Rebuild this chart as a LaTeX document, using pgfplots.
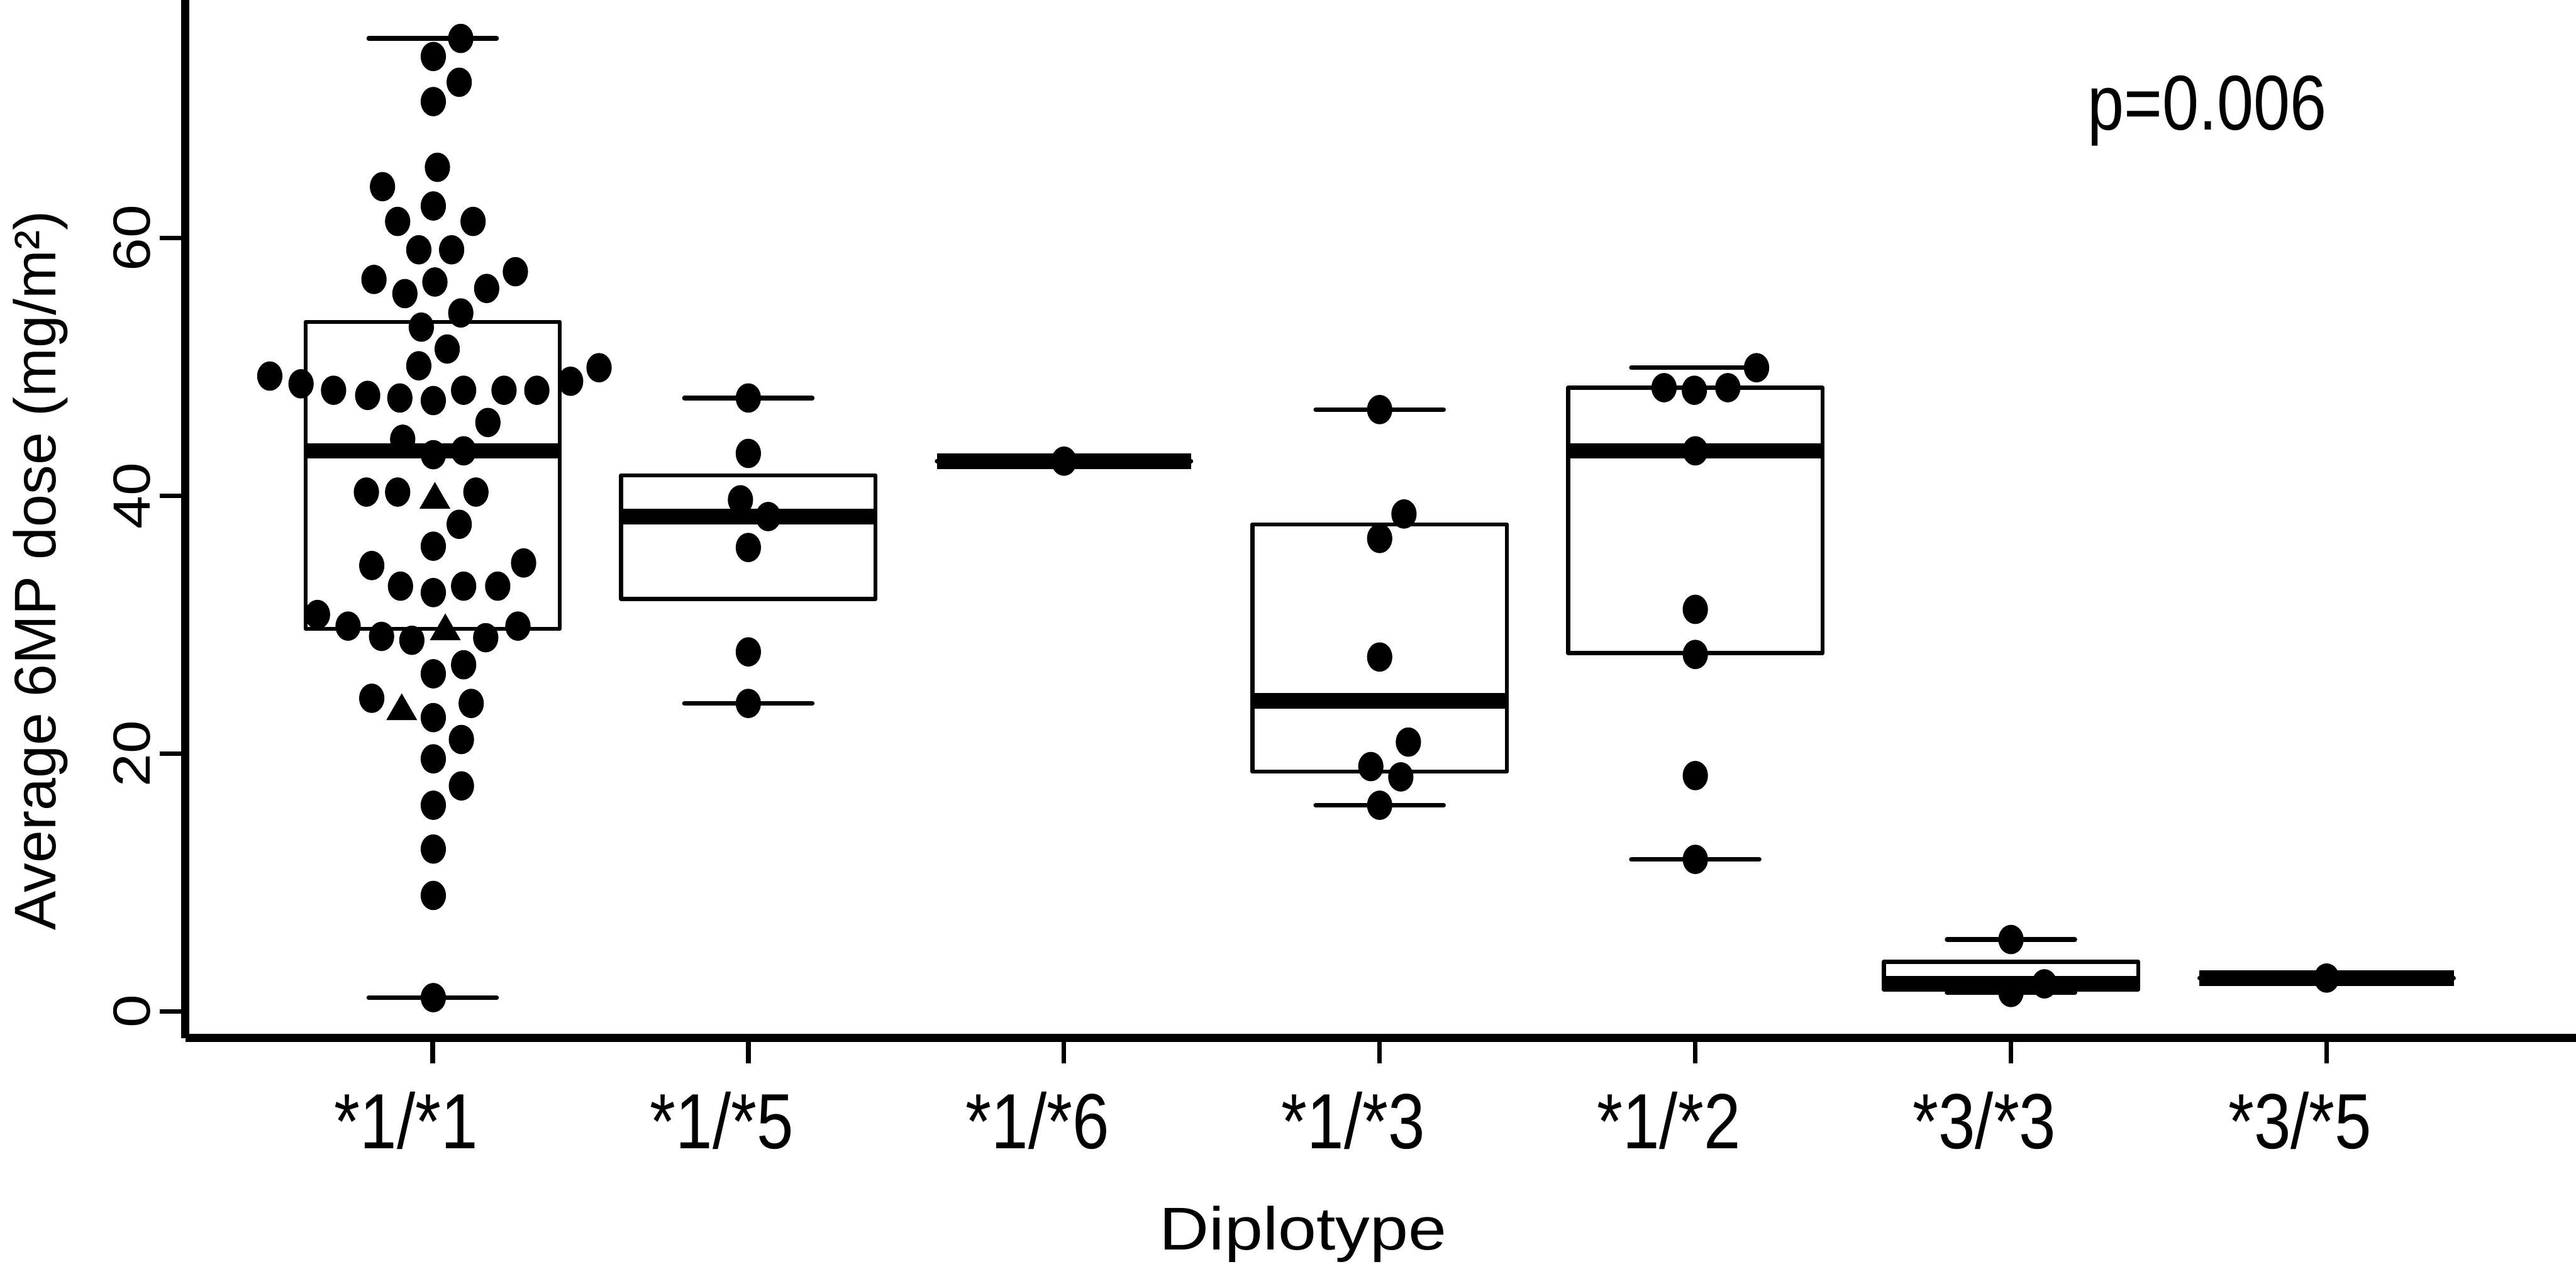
\documentclass[border=0pt]{standalone}
\usepackage{fontspec}
\setmainfont{Liberation Sans}
\usepackage{graphicx}
\usepackage{pgfplots}
\pgfplotsset{compat=1.18}
\usepgfplotslibrary{statistics}

% the reference's labels are not set at Arial's own proportions
\newcommand{\sx}[1]{\scalebox{0.845}[1]{#1}}
\newcommand{\sy}[1]{\scalebox{1.14}[1]{#1}}

\begin{document}
\begin{tikzpicture}
\begin{axis}[
    scale only axis,
    width=415.5pt, height=180.4pt,
    xmin=0.2162, xmax=7.79,
    ymin=-2.054, ymax=78.48,
    axis lines=left,
    axis line style={line width=1.45pt, -},
    tick align=outside,
    major tick length=4.4pt,
    tick style={line width=0.8pt, black},
    xtick={1,2,3,4,5,6,7},
    xticklabels={\sx{*1/*1},\sx{*1/*5},\sx{*1/*6},\sx{*1/*3},\sx{*1/*2},\sx{*3/*3},\sx{*3/*5}},
    ytick={0,20,40,60},
    yticklabels={\sy{0},\sy{20},\sy{40},\sy{60}},
    xticklabel style={font=\fontsize{13.6}{16}\selectfont, anchor=base, yshift=-14.8pt, xshift=-4.6pt},
    yticklabel style={font=\fontsize{9.1}{11}\selectfont, xshift=-1.7pt, rotate=90, anchor=base},
    xlabel={\scalebox{1.14}[1]{Diplotype}},
    xlabel style={font=\fontsize{10.5}{12}\selectfont, at={(axis description cs:0.4676,0)}, anchor=base, yshift=-36.8pt},
    ylabel={Average 6MP dose (mg/m²)},
    ylabel style={font=\fontsize{10.2}{12}\selectfont, at={(axis description cs:-0.05415,0.4501)}, anchor=base},
    boxplot/draw direction=y,
    boxplot/box extend=0.806,
    boxplot/whisker extend=0.405,
    boxplot/every box/.style={line width=0.7pt, line join=round},
    boxplot/every median/.style={line width=2.7pt},
    boxplot/every whisker/.style={line width=0.8pt, line cap=round},
    boxplot/draw/lower whisker/.code={\draw[/pgfplots/boxplot/every whisker/.try]
        (boxplot whisker cs:\pgfplotsboxplotvalue{lower whisker},0) --
        (boxplot whisker cs:\pgfplotsboxplotvalue{lower whisker},1);},
    boxplot/draw/upper whisker/.code={\draw[/pgfplots/boxplot/every whisker/.try]
        (boxplot whisker cs:\pgfplotsboxplotvalue{upper whisker},0) --
        (boxplot whisker cs:\pgfplotsboxplotvalue{upper whisker},1);},
]

% boxes (R style: no whisker stems, caps half the box width)
\addplot[black, boxplot prepared={draw position=1, lower whisker=1.07, lower quartile=29.7,
    median=43.5, upper quartile=53.5, upper whisker=75.5}] coordinates {};
\addplot[black, boxplot prepared={draw position=2, lower whisker=23.9, lower quartile=32.0,
    median=38.4, upper quartile=41.6, upper whisker=47.6}] coordinates {};
\addplot[black, boxplot prepared={draw position=3, lower whisker=42.7, lower quartile=42.7,
    median=42.7, upper quartile=42.7, upper whisker=42.7}] coordinates {};
\addplot[black, boxplot prepared={draw position=4, lower whisker=16.0, lower quartile=18.6,
    median=24.1, upper quartile=37.8, upper whisker=46.7}] coordinates {};
\addplot[black, boxplot prepared={draw position=5, lower whisker=11.8, lower quartile=27.8,
    median=43.5, upper quartile=48.4, upper whisker=49.95}] coordinates {};
\addplot[black, boxplot prepared={draw position=6, lower whisker=1.47, lower quartile=1.7,
    median=2.14, upper quartile=3.86, upper whisker=5.58}] coordinates {};
\addplot[black, boxplot prepared={draw position=7, lower whisker=2.59, lower quartile=2.59,
    median=2.59, upper quartile=2.59, upper whisker=2.59}] coordinates {};

% individual patients
\addplot[only marks, mark=*, mark size=2.35pt, mark options={xscale=0.85, draw=none, fill=black}]
coordinates {
    (1.089,75.5) (1.002,74.1) (1.084,72.1) (1.002,70.6) (1.015,65.5) (0.841,64.0)
    (1.002,62.5) (0.889,61.3) (1.128,61.3) (0.956,59.1) (1.060,59.1) (0.814,56.8)
    (1.262,57.4) (0.912,55.7) (1.007,56.6) (1.171,56.1) (1.089,54.2) (0.964,53.1)
    (1.046,51.4) (0.956,50.1) (0.484,49.3) (0.583,48.7) (0.686,48.2) (0.794,47.8)
    (0.896,47.6) (1.002,47.4) (1.098,48.2) (1.226,48.2) (1.330,48.2) (1.437,48.9)
    (1.527,49.95) (1.175,45.7) (0.905,44.4) (1.002,43.2) (1.098,43.5) (0.790,40.3)
    (0.889,40.3) (1.137,40.3) (1.084,37.8) (1.002,36.1) (0.807,34.6) (1.288,34.8)
    (0.898,33.0) (1.002,32.5) (1.098,33.0) (1.206,33.0) (0.635,30.8) (0.732,29.9)
    (0.838,29.1) (0.934,28.8) (1.168,29.0) (1.270,29.9) (1.098,26.9) (1.002,26.2)
    (0.807,24.3) (1.122,23.9) (1.002,22.8) (1.091,21.1) (1.002,19.6) (1.091,17.5)
    (1.002,16.0) (1.002,12.6) (1.002,9.0) (1.002,1.07)
    (2.0,47.6) (2.0,43.3) (1.975,39.7) (2.063,38.4) (2.0,36.0) (2.0,27.9) (2.0,23.9)
    (3.0,42.7)
    (4.0,46.7) (4.077,38.6) (4.0,36.7) (4.0,27.5) (4.091,20.9) (3.972,19.0)
    (4.067,18.2) (4.0,16.0)
    (5.194,49.95) (4.901,48.4) (4.997,48.2) (5.103,48.4) (5.0,43.5) (5.0,31.2)
    (5.0,27.7) (5.0,18.3) (5.0,11.8)
    (6.0,5.58) (6.106,2.14) (6.0,1.47)
    (7.0,2.59)
};
\addplot[only marks, mark=triangle*, mark size=2.7pt, mark options={draw=none, fill=black}]
coordinates {(1.007,39.7) (1.040,29.5) (0.902,23.3)};

\node[anchor=base, font=\fontsize{13.5}{16}\selectfont] at (axis cs:6.622,68.4) {\sx{p=0.006}};
\end{axis}
\pgfresetboundingbox
\path[use as bounding box] (-32.2pt,-40.1pt) rectangle (415.5pt,180.4pt);
\end{tikzpicture}
\end{document}
